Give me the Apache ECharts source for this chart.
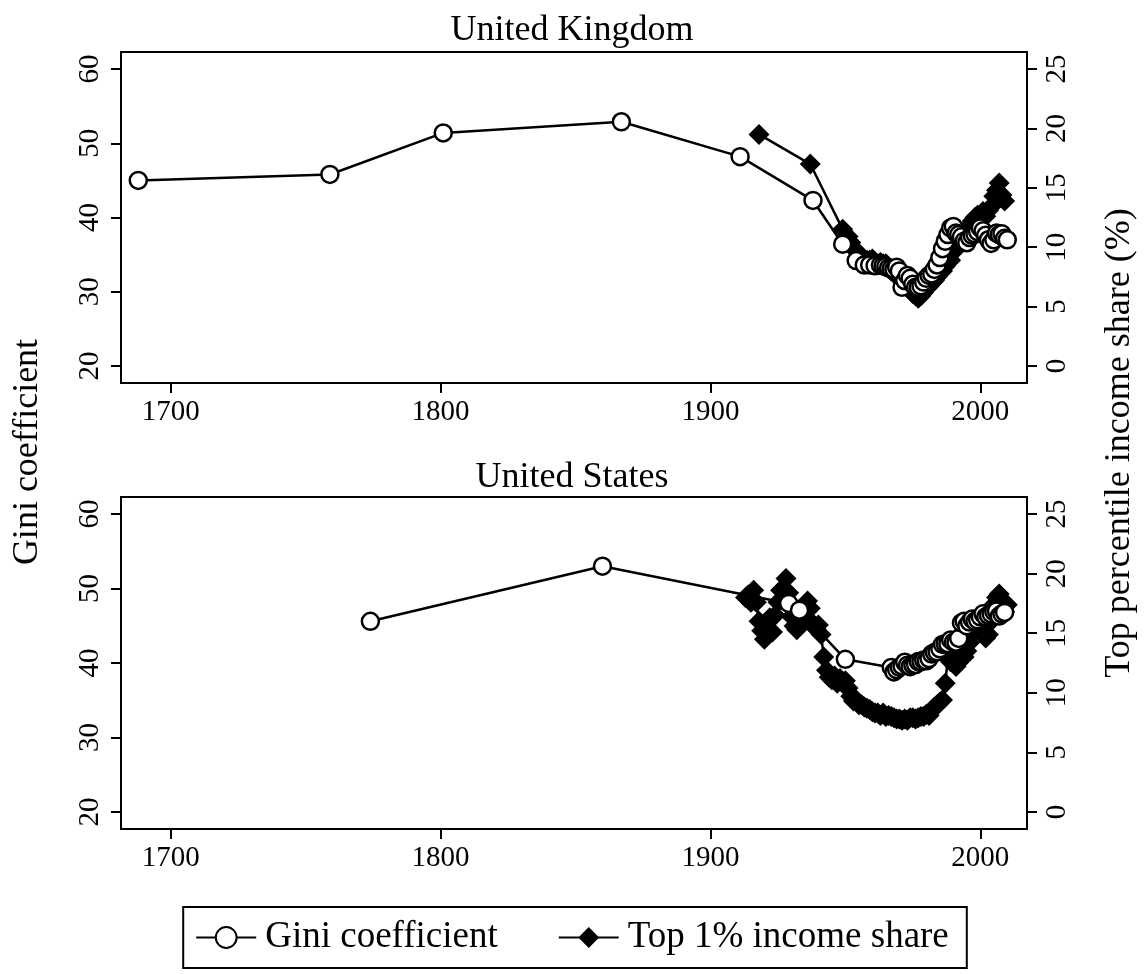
<!DOCTYPE html>
<html>
<head>
<meta charset="utf-8">
<script src="https://cdn.jsdelivr.net/npm/echarts@6/dist/echarts.min.js"></script>
<style>
  html, body { margin: 0; padding: 0; background: #fff; }
  #chart { width: 1144px; height: 974px; }
</style>
</head>
<body>
<div id="chart"></div>
<script>
// United Kingdom - Gini coefficient
var ukGiniYears = [1688, 1759, 1801, 1867, 1911, 1938, 1949, 1954, 1957, 1959, 1961, 1963, 1964, 1965, 1966, 1967, 1968, 1969, 1970, 1971, 1972, 1973, 1974, 1975, 1976, 1977, 1978, 1979, 1980, 1981, 1982, 1983, 1984, 1985, 1986, 1987, 1988, 1989, 1990, 1991, 1992, 1993, 1994, 1995, 1996, 1997, 1998, 1999, 2000, 2001, 2002, 2003, 2004, 2005, 2006, 2007, 2008, 2009, 2010];
var ukGiniValues = [45.0, 45.8, 51.4, 52.9, 48.2, 42.3, 36.4, 34.2, 33.6, 33.6, 33.5, 33.6, 33.5, 33.4, 33.2, 33.1, 33.0, 33.3, 32.8, 30.6, 31.5, 32.2, 31.8, 31.0, 30.6, 30.6, 30.8, 31.3, 31.8, 32.2, 32.4, 33.0, 33.6, 34.6, 35.8, 36.8, 37.7, 38.6, 38.8, 37.9, 37.7, 37.4, 36.8, 36.6, 37.3, 37.6, 37.8, 38.1, 38.6, 38.2, 37.6, 37.0, 36.5, 37.0, 37.9, 37.7, 37.8, 37.2, 37.0];

// United Kingdom - top 1% income share (%)
var ukTopYears = [1918, 1937, 1949, 1951, 1952, 1953, 1954, 1955, 1956, 1957, 1958, 1959, 1960, 1961, 1962, 1963, 1964, 1965, 1966, 1967, 1968, 1969, 1970, 1971, 1972, 1973, 1974, 1975, 1976, 1977, 1978, 1979, 1980, 1981, 1982, 1983, 1984, 1985, 1986, 1987, 1988, 1989, 1990, 1991, 1992, 1993, 1994, 1995, 1996, 1997, 1998, 1999, 2000, 2001, 2002, 2003, 2004, 2005, 2006, 2007, 2008, 2009];
var ukTopValues = [19.5, 17.0, 11.5, 10.9, 10.4, 9.9, 9.7, 9.4, 9.1, 9.0, 8.9, 8.9, 9.0, 8.7, 8.6, 8.7, 8.6, 8.6, 8.2, 8.0, 7.8, 7.6, 7.4, 7.3, 7.0, 6.8, 6.4, 6.1, 5.9, 5.7, 5.9, 6.2, 6.5, 6.7, 7.0, 7.2, 7.5, 7.8, 8.0, 8.4, 8.7, 8.9, 9.6, 10.0, 10.5, 10.8, 11.2, 11.5, 11.8, 12.2, 12.5, 12.7, 12.7, 13.0, 12.6, 13.1, 13.4, 14.3, 14.8, 15.4, 14.4, 13.9];

// United States - Gini coefficient
var usGiniYears = [1774, 1860, 1929, 1933, 1950, 1967, 1968, 1969, 1970, 1971, 1972, 1973, 1974, 1975, 1976, 1977, 1978, 1979, 1980, 1981, 1982, 1983, 1984, 1985, 1986, 1987, 1988, 1989, 1990, 1991, 1992, 1993, 1994, 1995, 1996, 1997, 1998, 1999, 2000, 2001, 2002, 2003, 2004, 2005, 2006, 2007, 2008, 2009];
var usGiniValues = [45.6, 53.0, 48.0, 47.1, 40.5, 39.4, 38.8, 39.1, 39.4, 39.6, 40.1, 39.7, 39.5, 39.7, 39.8, 40.2, 40.2, 40.4, 40.3, 40.6, 41.2, 41.4, 41.5, 41.9, 42.5, 42.6, 42.6, 43.1, 42.8, 42.8, 43.3, 45.4, 45.6, 45.0, 45.5, 45.9, 45.6, 45.8, 46.2, 46.6, 46.2, 46.4, 46.6, 46.9, 47.0, 46.3, 46.6, 46.8];

// United States - top 1% income share (%)
var usTopYears = [1913, 1914, 1915, 1916, 1917, 1918, 1919, 1920, 1921, 1922, 1923, 1924, 1925, 1926, 1927, 1928, 1929, 1930, 1931, 1932, 1933, 1934, 1935, 1936, 1937, 1938, 1939, 1940, 1941, 1942, 1943, 1944, 1945, 1946, 1947, 1948, 1949, 1950, 1951, 1952, 1953, 1954, 1955, 1956, 1957, 1958, 1959, 1960, 1961, 1962, 1963, 1964, 1965, 1966, 1967, 1968, 1969, 1970, 1971, 1972, 1973, 1974, 1975, 1976, 1977, 1978, 1979, 1980, 1981, 1982, 1983, 1984, 1985, 1986, 1987, 1988, 1989, 1990, 1991, 1992, 1993, 1994, 1995, 1996, 1997, 1998, 1999, 2000, 2001, 2002, 2003, 2004, 2005, 2006, 2007, 2008, 2009, 2010];
var usTopValues = [18.0, 18.2, 17.6, 18.6, 17.6, 16.0, 15.2, 14.5, 15.5, 16.3, 15.1, 16.5, 17.6, 18.6, 18.7, 19.6, 18.4, 16.4, 15.6, 15.3, 16.3, 16.0, 16.7, 17.7, 17.1, 15.8, 15.4, 15.7, 14.9, 13.0, 11.9, 11.3, 11.1, 11.4, 10.8, 11.2, 10.8, 11.0, 10.4, 9.7, 9.3, 9.4, 9.0, 9.0, 8.8, 8.7, 8.6, 8.4, 8.3, 8.3, 8.1, 8.3, 8.0, 8.1, 8.0, 7.9, 7.8, 7.8, 7.7, 7.8, 7.7, 7.9, 7.9, 7.8, 7.9, 8.0, 8.0, 8.2, 8.1, 8.5, 8.8, 9.0, 9.2, 9.4, 10.8, 13.0, 12.6, 13.0, 12.2, 13.5, 12.9, 13.0, 13.5, 14.2, 15.0, 15.3, 15.9, 16.5, 15.4, 14.6, 14.9, 16.0, 17.4, 18.0, 18.3, 17.7, 16.8, 17.4];

var yearTicks = [1700, 1800, 1900, 2000];
var giniTicks = [20, 30, 40, 50, 60];
var shareTicks = [0, 5, 10, 15, 20, 25];

function pairs(xs, ys) {
    return xs.map(function (x, i) { return [x, ys[i]]; });
}

var FONT = 'Liberation Serif';
var giniMin = 17.7, giniMax = 62.3;
var shareMin = (giniMin - 20) * 25 / 40, shareMax = (giniMax - 20) * 25 / 40;

function plain(v) { return String(v); }

function xAxis(grid) {
    return {
        type: 'value', gridIndex: grid, min: 1681.6, max: 2017.3,
        splitLine: { show: false },
        axisLine: { show: true, onZero: false, lineStyle: { color: '#000', width: 2 } },
        axisTick: { show: true, length: 10, customValues: yearTicks, lineStyle: { color: '#000', width: 2 } },
        axisLabel: { customValues: yearTicks, formatter: plain, margin: 15, color: '#000', fontFamily: FONT, fontSize: 29 }
    };
}

function yAxis(grid, side, min, max, ticks) {
    return {
        type: 'value', gridIndex: grid, position: side, min: min, max: max,
        splitLine: { show: false },
        axisLine: { show: true, onZero: false, lineStyle: { color: '#000', width: 2 } },
        axisTick: { show: true, length: 10, customValues: ticks, lineStyle: { color: '#000', width: 2 } },
        axisLabel: { customValues: ticks, formatter: plain, rotate: 90, margin: 16, color: '#000', fontFamily: FONT, fontSize: 29 }
    };
}

function giniSeries(data, x, y) {
    return {
        name: 'Gini coefficient', type: 'line', xAxisIndex: x, yAxisIndex: y, z: 3,
        data: data, showAllSymbol: true, symbol: 'circle', symbolSize: 17,
        lineStyle: { color: '#000', width: 2.5 },
        itemStyle: { color: '#fff', borderColor: '#000', borderWidth: 2.5 },
        emphasis: { disabled: true }
    };
}

function topSeries(data, x, y) {
    return {
        name: 'Top 1% income share', type: 'line', xAxisIndex: x, yAxisIndex: y, z: 2,
        data: data, showAllSymbol: true, symbol: 'diamond', symbolSize: 21,
        lineStyle: { color: '#000', width: 2.5 },
        itemStyle: { color: '#000', borderColor: '#000', borderWidth: 0 },
        emphasis: { disabled: true }
    };
}

var chart = echarts.init(document.getElementById('chart'));
chart.setOption({
    animation: false,
    backgroundColor: '#fff',
    textStyle: { fontFamily: FONT, color: '#000' },
    title: [
        { text: 'United Kingdom', left: 'center', top: 8, textStyle: { fontFamily: FONT, fontSize: 36, fontWeight: 'normal', color: '#000' } },
        { text: 'United States', left: 'center', top: 455, textStyle: { fontFamily: FONT, fontSize: 36, fontWeight: 'normal', color: '#000' } }
    ],
    grid: [
        { left: 121, top: 52, width: 906, height: 331, show: true, borderColor: '#000', borderWidth: 2, backgroundColor: '#fff' },
        { left: 121, top: 497, width: 906, height: 332, show: true, borderColor: '#000', borderWidth: 2, backgroundColor: '#fff' }
    ],
    xAxis: [xAxis(0), xAxis(1)],
    yAxis: [
        yAxis(0, 'left', giniMin, giniMax, giniTicks),
        yAxis(0, 'right', shareMin, shareMax, shareTicks),
        yAxis(1, 'left', giniMin, giniMax, giniTicks),
        yAxis(1, 'right', shareMin, shareMax, shareTicks)
    ],
    legend: {
        left: 'center', top: 907,
        data: ['Gini coefficient', 'Top 1% income share'],
        borderColor: '#000', borderWidth: 2, padding: [12, 18, 12, 12],
        itemGap: 60, itemWidth: 60, itemHeight: 26,
        selectedMode: false,
        textStyle: { fontFamily: FONT, fontSize: 37, color: '#000', padding: [0, 0, 0, 4] }
    },
    graphic: [
        { type: 'text', x: 28, y: 452, rotation: Math.PI / 2,
          style: { text: 'Gini coefficient', font: '36px "Liberation Serif"', fill: '#000', align: 'center', verticalAlign: 'middle' } },
        { type: 'text', x: 1120, y: 443, rotation: Math.PI / 2,
          style: { text: 'Top percentile income share (%)', font: '36px "Liberation Serif"', fill: '#000', align: 'center', verticalAlign: 'middle' } }
    ],
    series: [
        topSeries(pairs(ukTopYears, ukTopValues), 0, 1),
        giniSeries(pairs(ukGiniYears, ukGiniValues), 0, 0),
        topSeries(pairs(usTopYears, usTopValues), 1, 3),
        giniSeries(pairs(usGiniYears, usGiniValues), 1, 2)
    ]
});
</script>
</body>
</html>
